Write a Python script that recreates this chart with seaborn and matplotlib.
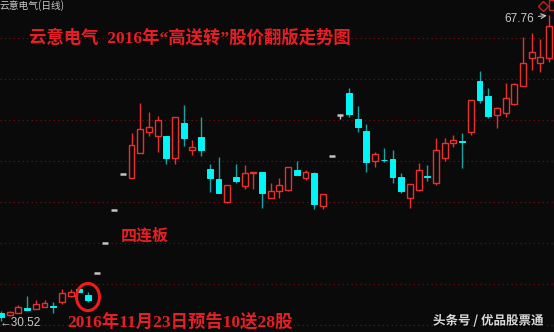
import numpy as np
import pandas as pd
import matplotlib
matplotlib.use("Agg")
import matplotlib.pyplot as plt
import seaborn as sns
from matplotlib.patches import Ellipse, Rectangle
import matplotlib.patheffects as pe

# ---------------- data (daily candles, price in yuan) ----------------
opens = [31.46, 31.22, 31.46, 32.07, 31.95, 32.19, 32.31, 32.80, 33.53, 34.39,
         33.66, 36.36, 40.00, 44.00, 48.40, 47.92, 50.97, 53.53, 53.05, 53.05,
         50.36, 54.63, 51.34, 52.92, 49.02, 47.80, 45.00, 48.05, 46.95, 48.55,
         48.65, 45.48, 46.34, 46.46, 48.90, 47.92, 48.53, 44.51, 50.57, 55.63,
         58.29, 55.12, 53.65, 50.00, 50.15, 50.24, 48.05, 45.48, 46.46, 48.20,
         47.31, 50.36, 52.19, 52.40, 53.53, 59.75, 57.92, 55.61, 55.85, 56.95,
         59.14, 62.56, 61.95, 62.56]
highs = [31.70, 31.70, 32.43, 33.53, 33.05, 33.05, 32.80, 34.39, 34.39, 34.39,
         34.02, 36.36, 40.00, 44.00, 48.40, 53.41, 57.07, 55.97, 55.48, 53.05,
         55.36, 56.83, 52.56, 55.36, 49.63, 50.48, 47.07, 49.63, 49.51, 48.65,
         48.65, 47.31, 47.92, 49.26, 50.00, 48.90, 48.65, 45.97, 50.57, 55.63,
         58.90, 56.70, 54.51, 51.09, 51.58, 51.34, 48.53, 47.19, 49.75, 49.51,
         52.80, 52.80, 53.17, 53.41, 57.44, 60.97, 58.90, 56.58, 59.51, 59.51,
         65.12, 65.61, 64.87, 67.76]
lows = [30.52, 31.10, 31.46, 31.83, 31.95, 32.19, 31.46, 32.56, 33.41, 34.02,
        32.80, 36.36, 40.00, 44.00, 48.40, 47.92, 50.97, 53.05, 51.09, 49.63,
        49.63, 51.83, 50.73, 50.61, 46.22, 46.09, 44.87, 47.31, 46.58, 46.58,
        44.26, 45.48, 45.48, 46.34, 48.29, 47.68, 44.14, 44.14, 50.57, 55.12,
        55.36, 53.53, 48.65, 49.26, 49.87, 47.31, 46.09, 44.26, 46.34, 47.56,
        47.07, 50.00, 51.70, 49.14, 53.17, 57.07, 55.24, 54.02, 55.36, 56.83,
        59.14, 61.09, 60.85, 62.07]
closes = [30.97, 31.58, 32.19, 31.83, 32.56, 32.68, 32.19, 33.90, 34.02, 34.02,
          33.05, 36.36, 40.00, 44.00, 48.40, 51.95, 53.90, 54.14, 55.00, 50.36,
          55.36, 52.80, 51.70, 51.34, 47.92, 46.09, 47.07, 47.56, 48.53, 48.65,
          46.09, 46.34, 47.07, 49.26, 48.29, 48.65, 44.75, 45.97, 50.57, 55.63,
          55.73, 54.14, 49.87, 50.85, 50.10, 48.05, 46.34, 47.19, 48.90, 48.10,
          51.34, 52.19, 52.56, 52.30, 57.44, 57.44, 55.48, 56.46, 57.68, 59.39,
          61.95, 63.29, 62.68, 66.46]
grid_levels = [30, 35, 40, 45, 50, 55, 60, 65]
high_label = "67.76"
low_label = "←30.52"
announce_day = 10   # 2016-11-23 candle (circled)

title_text = "云意电气  2016年“高送转”股价翻版走势图"
stock_label = "云意电气(日线)"
streak_text = "四连板"
note_text = "2016年11月23日预告10送28股"
watermark = "头条号 / 优品股票通"

df = pd.DataFrame({"open": opens, "high": highs, "low": lows, "close": closes})
df["i"] = np.arange(len(df))
df["kind"] = np.where((df.open == df.close) & (df.close == df.high), "limit",
                      np.where(df.close >= df.open, "up", "down"))

# ---------------- style ----------------
BG = "#0a0a0a"
RED = "#e8302f"
CYAN = "#00f6f6"
CYAN_WICK = "#1aa3a3"
GREY = "#c4c4c4"

sns.set_theme(style="dark", rc={"axes.facecolor": BG, "figure.facecolor": BG})
plt.rcParams["font.family"] = ["Noto Sans CJK SC", "DejaVu Sans"]

W, H = 554, 332
fig = plt.figure(figsize=(W / 100, H / 100), dpi=100)
ax = fig.add_axes([0, 0, 1, 1])
ax.set_facecolor(BG)
ax.set_xlim(-0.115, 63.56)
ax.set_ylim(29.15, 69.63)
ax.set_axis_off()

for g in grid_levels:
    ax.axhline(g, color="#7a1212", lw=0.8, ls=(0, (1, 3)), zorder=0)

bw = 0.68
up = df[df.kind == "up"]
dn = df[df.kind == "down"]
lim = df[df.kind == "limit"]

# wicks
ax.vlines(up.i, up.low, up.high, color=RED, lw=1.0, zorder=2)
ax.vlines(dn.i, dn.low, dn.high, color=CYAN_WICK, lw=1.0, zorder=2)
ax.vlines(lim.i, lim.low, lim.high, color=GREY, lw=1.0, zorder=2)

# bodies
ax.bar(up.i, up.close - up.open, bottom=up.open, width=bw,
       facecolor=BG, edgecolor=RED, lw=1.0, zorder=3)
ax.bar(dn.i, dn.open - dn.close, bottom=dn.close, width=bw,
       facecolor=CYAN, edgecolor=CYAN, lw=0.7, zorder=3)
ax.hlines(lim.close, lim.i - bw / 2, lim.i + bw / 2, color=GREY, lw=1.8, zorder=3)

# circle around announcement day
ac = df.iloc[announce_day]
ax.add_patch(Ellipse((announce_day, (ac.high + ac.low) / 2), width=2.64, height=3.3,
                     fill=False, edgecolor="#ee1c1c", lw=2.2, zorder=4))

# texts
def fx(px):
    return px / W

def fy(py):
    return 1 - py / H

serif_cjk = ["Liberation Serif", "Noto Sans CJK SC"]
fig.text(fx(29), fy(37.5), title_text, color="#e61e25", fontsize=12.5,
         weight="bold", family=serif_cjk, ha="left", va="center")
fig.text(fx(-1), fy(6), stock_label, color="#c8c8c8", fontsize=7,
         ha="left", va="center")
fig.text(fx(121), fy(237), streak_text, color="#e61e25", fontsize=11.5,
         weight="bold", family=serif_cjk, ha="left", va="center")
fig.text(fx(67), fy(322), note_text, color="#e61e25", fontsize=12.5,
         weight="bold", family=serif_cjk, ha="left", va="center")
fig.text(fx(0), fy(322.5), low_label, color="#c8c8c8", fontsize=8.5,
         family=["Liberation Sans", "DejaVu Sans"], ha="left", va="center")
ax.annotate(high_label, xy=(df.i.iloc[-1] - 0.1, df.high.iloc[-1]),
            xytext=(504, H - 18.5), textcoords="figure pixels",
            color="#c8c8c8", fontsize=8.5, family=["Liberation Sans", "DejaVu Sans"],
            ha="left", va="center",
            arrowprops=dict(arrowstyle="->", color="#c8c8c8", lw=0.8,
                            shrinkA=1, shrinkB=1))
fig.text(fx(433), fy(321), watermark, color="#dadada", fontsize=9, weight="bold",
         ha="left", va="center",
         path_effects=[pe.withSimplePatchShadow(offset=(1, -1), shadow_rgbFace="#000000", alpha=0.8)])

# top-right chart-control marks
fig.lines.append(plt.Line2D([fx(543)], [fy(6)], marker="D", ms=5.5, mfc="none",
                            mec="#c02020", mew=1.0, transform=fig.transFigure))
fig.patches.append(Rectangle((fx(549), fy(10)), fx(6), 10 / H, fill=False,
                             edgecolor="#c02020", lw=1.0, transform=fig.transFigure))

fig.savefig("out.png", dpi=100, facecolor=BG)
